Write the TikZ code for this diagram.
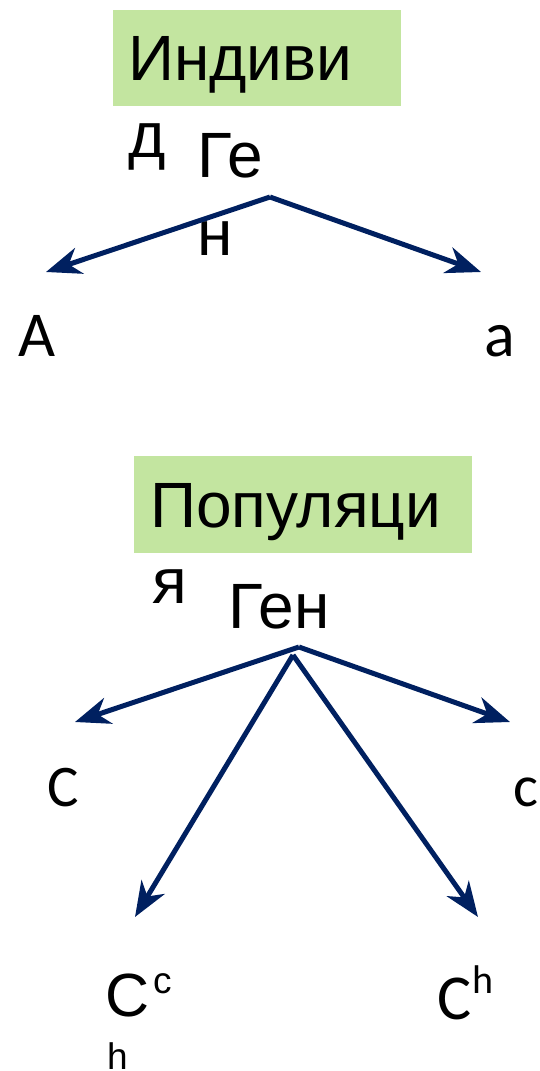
\documentclass[tikz,border=0pt]{standalone}
\usepackage{fontspec}
\setmainfont{Liberation Sans}
\newfontfamily\calfont{Carlito}
\usetikzlibrary{arrows.meta}
\definecolor{boxgreen}{RGB}{195,229,160}
\definecolor{navy}{RGB}{0,32,96}
\begin{document}
\begin{tikzpicture}[x=1pt,y=-1pt,
  big/.style={inner sep=0,outer sep=0,anchor=base west,font=\fontsize{64}{70}\selectfont},
  arial/.style={inner sep=0,outer sep=0,anchor=base west,font=\fontsize{61}{70}\selectfont},
  cal/.style={inner sep=0,outer sep=0,anchor=base west,font=\calfont\fontsize{64}{70}\selectfont},
  calc/.style={inner sep=0,outer sep=0,anchor=base west,font=\calfont\fontsize{59}{70}\selectfont},
  calsup/.style={inner sep=0,outer sep=0,anchor=base west,font=\calfont\fontsize{40}{44}\selectfont},
  small/.style={inner sep=0,outer sep=0,anchor=base west,font=\fontsize{37}{40}\selectfont},
  greenbox/.style={fill=boxgreen,inner sep=0,outer sep=0,anchor=north west},
  arr/.style={draw=navy,line width=5pt,-{Stealth[length=35pt,width=27pt,inset=11pt]}}]
\useasboundingbox (0,0) rectangle (540,1071);
% --- individual ---
\node[greenbox,minimum width=288pt,minimum height=96pt] (box1) at (113,10) {};
\node[big] (ind) at (128,80) {Индиви};
\node[big] (indd) at (128,157) {д};
\node[big] (gen1a) at (197,177) {Ге};
\node[big] (gen1b) at (197,255) {н};
\node[cal] (A) at (19,356) {А};
\node[cal] (a) at (484,356) {а};
\coordinate (apex1) at (270,197);
\coordinate (tipA) at (46,272);
\coordinate (tipa) at (481,272);
\draw[arr] (apex1) -- (tipA);
\draw[arr] (apex1) -- (tipa);
% --- population ---
\node[greenbox,minimum width=338pt,minimum height=97pt] (box2) at (134,456) {};
\node[big] (pop) at (150,527) {Популяци};
\node[big] (popya) at (152,603) {я};
\node[big] (gen2) at (228,628) {Ген};
\node[calc] (C) at (47,806) {C};
\node[calc] (c) at (513,806) {c};
\node[arial] (Cch) at (105,1016) {C};
\node[small] (Cchs) at (153,993) {c};
\node[small] (Cchh) at (107,1069) {h};
\node[cal] (Ch) at (437,1019) {C};
\node[calsup] (Chs) at (472,993) {h};
\coordinate (apex2) at (299,647);
\coordinate (apex3) at (293,655);
\coordinate (tipC) at (75,722);
\coordinate (tipc) at (510,722);
\coordinate (tipCch) at (135,917);
\coordinate (tipCh) at (478,917);
\draw[arr] (apex2) -- (tipC);
\draw[arr] (apex2) -- (tipc);
\draw[arr] (apex3) -- (tipCch);
\draw[arr] (apex3) -- (tipCh);
\end{tikzpicture}
\end{document}
